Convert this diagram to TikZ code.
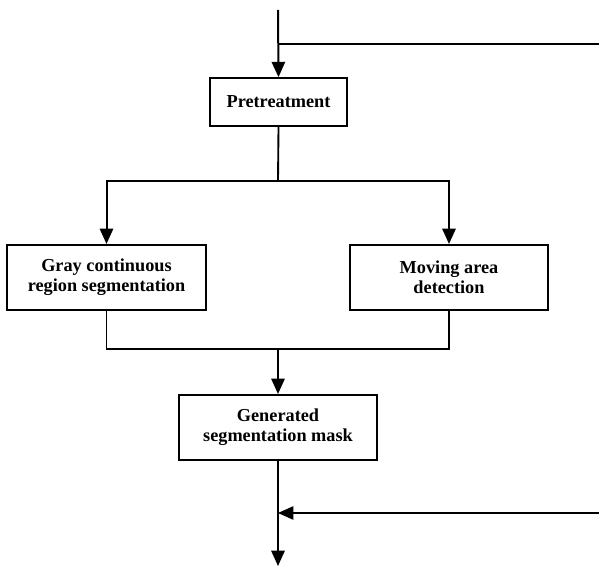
\documentclass[tikz,border=0pt]{standalone}
\usepackage{fontspec}
\setmainfont{Liberation Serif}
\usetikzlibrary{arrows.meta,positioning,calc}

\tikzset{
  stage/.style={draw,line width=1.3pt,align=center,inner sep=2pt,
    font=\fontsize{13.7}{14.8}\selectfont\bfseries},
  flow/.style={line width=1.5pt,-{Triangle[width=10pt,length=11.5pt]}},
  link/.style={line width=1.4pt},
  side/.style={line width=1.1pt}
}

\begin{document}
\begin{tikzpicture}[x=0.75pt,y=-0.75pt]
\useasboundingbox (0,0) rectangle (599,566);

\node[stage,minimum width=103pt,minimum height=36pt] (pre) at (278.5,102) {Pretreatment};
\node[stage,minimum width=149pt,minimum height=49pt] (gray) at (106.5,277.5) {Gray continuous\\region segmentation};
\node[stage,minimum width=149pt,minimum height=49pt] (move) at (449,277.5) {Moving area\\detection};
\node[stage,minimum width=149pt,minimum height=49pt] (gen) at (278,427.5) {Generated\\segmentation mask};

\coordinate (in) at (278,10);
\coordinate (fork) at (278,44);
\coordinate (loopA) at (599,44);
\coordinate (split) at (278,181.5);
\coordinate (join) at (278,349);
\coordinate (merge) at (278,513);
\coordinate (loopB) at (599,513);
\coordinate (out) at (278,566);

% input and feedback at the top
\draw[flow] (in) -- (pre.north);
\draw[side] (fork) -- (loopA);

% split into two branches
\draw[link] (pre.south) -- (split);
\draw[flow] (split) -| (gray.north);
\draw[flow] (split) -| (move.north);

% join the two branches
\draw[link] (gray.south) |- (join);
\draw[link] (move.south) |- (join);
\draw[flow] (join) -- (gen.north);

% output
\draw[flow] (gen.south) -- (out);
\draw[side,-{Triangle[width=10pt,length=11.5pt]}] (loopB) -- (merge);

\end{tikzpicture}
\end{document}
